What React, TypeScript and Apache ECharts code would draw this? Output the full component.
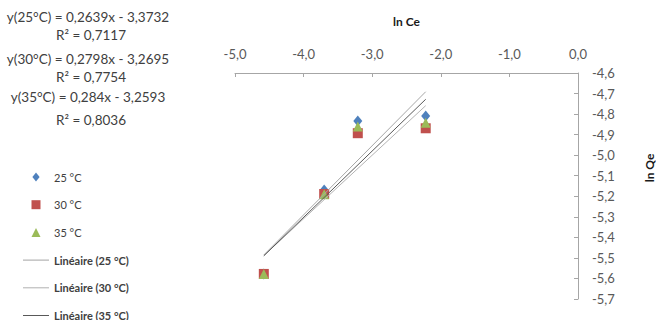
import React, { useEffect, useRef } from 'react';
import * as echarts from 'echarts';

// ln Ce values (x) and ln Qe values (y) for each temperature
const lnCe = [-4.58, -3.7, -3.21, -2.22];
const lnQe25 = [-5.578, -5.17, -4.834, -4.809];
const lnQe30 = [-5.578, -5.189, -4.893, -4.869];
const lnQe35 = [-5.578, -5.19, -4.861, -4.842];

const seriesNames = ['25 °C', '30 °C', '35 °C'];
const trendNames = ['Linéaire (25 °C)', 'Linéaire (30 °C)', 'Linéaire (35 °C)'];
const equationLines = [
  'y(25°C) = 0,2639x - 3,3732',
  'R² = 0,7117',
  'y(30°C) = 0,2798x - 3,2695',
  'R² = 0,7754',
  'y(35°C) = 0,284x - 3,2593',
  'R² = 0,8036',
];

const xMin = -5;
const xMax = 0;
const xStep = 1;
const yMin = -5.7;
const yMax = -4.6;
const yStep = 0.1;

const markerColors = ['#4f81bd', '#c0504d', '#9bbb59'];
const markerSymbols = ['diamond', 'rect', 'triangle'];
const legendMarkerIcons = [
  'path://M5,0L9,5L5,10L1,5Z',
  'path://M0,0H10V10H0Z',
  'path://M5,0L10,10H0Z',
];
const legendLineIcon = 'path://M0,0H25V1H0Z';
const trendColors = ['#a6a6a6', '#b3b3b3', '#595959'];

function linearTrend(xs: number[], ys: number[]): number[][] {
  const n = xs.length;
  const mx = xs.reduce((a, b) => a + b, 0) / n;
  const my = ys.reduce((a, b) => a + b, 0) / n;
  let sxy = 0;
  let sxx = 0;
  for (let i = 0; i < n; i++) {
    sxy += (xs[i] - mx) * (ys[i] - my);
    sxx += (xs[i] - mx) * (xs[i] - mx);
  }
  const slope = sxy / sxx;
  const b = my - slope * mx;
  const lo = Math.min(...xs);
  const hi = Math.max(...xs);
  return [
    [lo, slope * lo + b],
    [hi, slope * hi + b],
  ];
}

const fmt = (v: number) => v.toFixed(1).replace('.', ',').replace('-0,0', '0,0');

const CHART_H = 380;

export default function App() {
  const ref = useRef<HTMLDivElement>(null);

  useEffect(() => {
    if (!ref.current) return;
    const chart = echarts.init(ref.current, undefined, { renderer: 'svg' });
    const ySets = [lnQe25, lnQe30, lnQe35];

    const scatterSeries = ySets.map((ys, i) => ({
      type: 'scatter',
      name: seriesNames[i],
      symbol: markerSymbols[i],
      symbolSize: i === 0 ? [9, 11] : 10,
      itemStyle: { color: markerColors[i], opacity: 1 },
      data: lnCe.map((x, j) => [x, ys[j]]),
      z: 2,
    }));

    const lineSeries = ySets.map((ys, i) => ({
      type: 'line',
      name: trendNames[i],
      symbol: 'none',
      showSymbol: false,
      lineStyle: { color: trendColors[i], width: 1 },
      itemStyle: { color: trendColors[i] },
      data: linearTrend(lnCe, ys),
      z: 3,
    }));

    const eqY = [17, 35, 59, 77, 97, 120];
    const graphics: any[] = equationLines.map((t, i) => ({
      type: 'text',
      x: i % 2 === 0 ? 88 : 91,
      y: eqY[i],
      style: {
        text: t,
        font: '13.5px Lato',
        fill: '#404040',
        align: 'center',
        verticalAlign: 'middle',
        textAlign: 'center',
        textVerticalAlign: 'middle',
      },
    }));
    graphics.push({
      type: 'text',
      x: 649,
      y: 168,
      rotation: Math.PI / 2,
      style: {
        text: 'ln Qe',
        font: 'bold 12px Lato',
        fill: '#1a1a1a',
        align: 'center',
        verticalAlign: 'middle',
        textAlign: 'center',
        textVerticalAlign: 'middle',
      },
    });

    chart.setOption({
      animation: false,
      backgroundColor: '#ffffff',
      textStyle: { fontFamily: 'Lato' },
      grid: { left: 235, right: 78, top: 73, bottom: CHART_H - 299, containLabel: false },
      legend: {
        orient: 'vertical',
        left: 18,
        top: 166,
        itemWidth: 26,
        itemHeight: 9,
        itemGap: 15.7,
        selectedMode: false,
        symbolKeepAspect: true,
        textStyle: { fontSize: 11, color: '#404040', lineHeight: 12, fontFamily: 'Lato' },
        data: [
          ...seriesNames.map((n, i) => ({ name: n, icon: legendMarkerIcons[i] })),
          ...trendNames.map((n) => ({
            name: n,
            icon: legendLineIcon,
            textStyle: { fontWeight: 'bold' },
          })),
        ],
      },
      xAxis: {
        type: 'value',
        position: 'top',
        min: xMin,
        max: xMax,
        interval: xStep,
        name: 'ln Ce',
        nameLocation: 'middle',
        nameGap: 46,
        nameTextStyle: { fontSize: 12, fontWeight: 'bold', color: '#1a1a1a', fontFamily: 'Lato' },
        axisLine: { show: true, onZero: false, lineStyle: { color: '#a6a6a6', width: 1 } },
        axisTick: { show: true, inside: true, length: 4, lineStyle: { color: '#a6a6a6' } },
        axisLabel: {
          formatter: fmt,
          fontSize: 13,
          color: '#595959',
          margin: 13,
          fontFamily: 'Lato',
        },
        splitLine: { show: false },
      },
      yAxis: {
        type: 'value',
        position: 'right',
        min: yMin,
        max: yMax,
        interval: yStep,
        axisLine: { show: true, onZero: false, lineStyle: { color: '#a6a6a6', width: 1 } },
        axisTick: { show: true, inside: true, length: 4, lineStyle: { color: '#a6a6a6' } },
        axisLabel: {
          formatter: fmt,
          fontSize: 13,
          color: '#595959',
          margin: 14,
          fontFamily: 'Lato',
        },
        splitLine: { show: false },
      },
      graphic: graphics,
      series: [...scatterSeries, ...lineSeries],
    });

    return () => chart.dispose();
  }, []);

  return (
    <div
      ref={ref}
      style={{ position: 'fixed', left: 0, top: 0, width: 656, height: CHART_H, background: '#fff' }}
    />
  );
}
